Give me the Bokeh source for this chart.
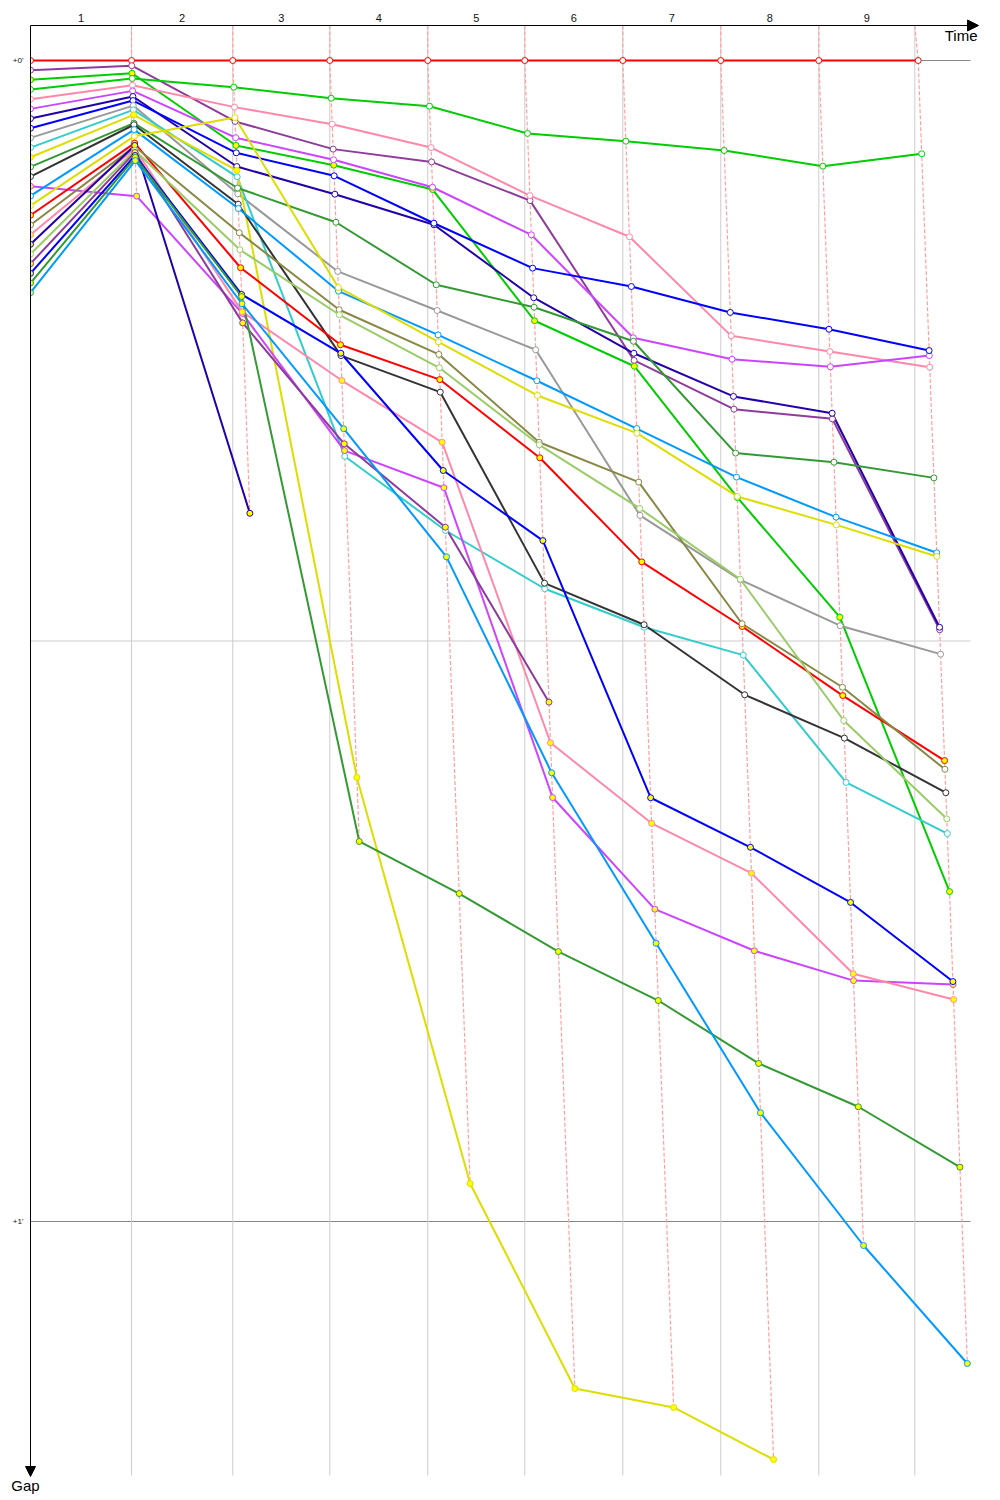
from bokeh.plotting import figure
from bokeh.models import Range1d, Arrow, NormalHead, Label
from bokeh.core.properties import value
from bokeh.embed import file_html
from bokeh.resources import INLINE

# ---------------- data ----------------
# race time (s) at which the leader completes each lap, index 0 = start
leader_times = [0.0, 138.4, 277.1, 410.0, 544.2, 677.1, 811.4, 945.6, 1079.9, 1216.0]
# time (s) of the vertical lap grid lines
lap_grid_times = [138.4, 277.1, 410.0, 544.2, 677.1, 811.4, 945.6, 1079.9, 1211.4]
lap_labels = ["1", "2", "3", "4", "5", "6", "7", "8", "9"]
gap_major = [0, 60]
gap_major_labels = ["+0'", "+1'"]
gap_minor = [30]

# gap to the leader (s): start grid, then after laps 1..9
red_a = [0.0, 0.0, 0.0, 0.0, 0.0, 0.0, 0.0, 0.0, 0.0, 0.0]
purple_a = [0.5, 0.27, 3.15, 4.58, 5.24, 7.24, 15.50, 18.02, 18.52, 29.42]
green_b = [1.0, 0.66, 4.39, 5.41, 6.67, 13.45, 15.80, 22.58, 28.77, 42.95]
green_a = [1.5, 0.93, 1.38, 1.95, 2.36, 3.77, 4.17, 4.65, 5.46, 4.82]
pink_a = [2.0, 1.28, 2.41, 3.29, 4.50, 6.98, 9.11, 14.23, 15.04, 15.85]
magenta_a = [2.5, 1.57, 3.99, 5.13, 6.55, 9.01, 14.33, 15.44, 15.83, 15.25]
navy_a = [3.0, 1.86, 5.48, 6.91, 8.49, 12.26, 15.13, 17.36, 18.23, 29.29]
blue_a = [3.5, 2.07, 4.77, 5.96, 8.41, 10.73, 11.68, 13.02, 13.89, 14.99]
grey_a = [4.0, 2.33, 6.89, 10.90, 12.92, 14.95, 23.51, 26.84, 29.21, 30.68]
cyan_a = [4.5, 2.55, 6.01, 20.45, 24.29, 27.30, 29.29, 30.73, 37.31, 39.95]
yellow_b = [5.0, 2.81, 5.68, 37.05, 58.04, 68.63, 69.61, 72.30]
forest_a = [5.5, 3.24, 6.59, 8.36, 11.59, 12.75, 14.51, 20.29, 20.76, 21.57]
black_a = [6.0, 3.32, 7.43, 15.25, 17.14, 27.01, 29.16, 32.78, 35.02, 37.84]
magenta_b = [6.5, 7.01, 13.07, 20.16, 22.08, 38.09, 43.86, 46.01, 47.55, 47.75]
lightblue_a = [7.0, 3.57, 7.65, 11.92, 14.18, 16.55, 19.02, 21.53, 23.60, 25.44]
yellow_a = [7.5, 3.91, 2.95, 11.73, 14.54, 17.31, 19.26, 22.53, 24.00, 25.63]
red_b = [8.0, 4.27, 10.71, 14.69, 16.49, 20.53, 25.91, 29.25, 32.82, 36.18]
olive_a = [8.5, 4.44, 8.90, 12.88, 15.19, 19.73, 21.79, 29.11, 32.39, 36.63]
pink_b = [9.0, 4.55, 12.99, 16.54, 19.73, 35.26, 39.42, 42.00, 47.20, 48.53]
navy_b = [9.5, 4.39, 23.40]
lightgreen_a = [10.0, 4.65, 9.78, 13.14, 15.88, 19.86, 23.15, 26.81, 34.11, 39.19]
purple_b = [10.5, 4.75, 13.56, 19.81, 24.12, 33.16]
blue_b = [11.0, 4.91, 12.09, 15.13, 21.19, 24.81, 38.10, 40.66, 43.51, 47.60]
forest_b = [11.5, 5.01, 12.20, 40.36, 43.05, 46.05, 48.58, 51.83, 54.07, 57.19]
lightblue_b = [12.0, 5.17, 12.57, 19.03, 25.65, 36.81, 45.62, 54.38, 61.24, 67.34]

series = [red_a, purple_a, green_b, green_a, pink_a, magenta_a, navy_a, blue_a,
          grey_a, cyan_a, yellow_b, forest_a, black_a, magenta_b, lightblue_a,
          yellow_a, red_b, olive_a, pink_b, navy_b, lightgreen_a, purple_b,
          blue_b, forest_b, lightblue_b]
series_colors = ["#FF0000", "#8E3B9C", "#00CC00", "#00CC00", "#FF88AA", "#CC44FF",
                 "#2200AA", "#0000FF", "#999999", "#33CCCC", "#DDDD00", "#339933",
                 "#333333", "#CC44FF", "#0099FF", "#DDDD00", "#FF0000", "#888844",
                 "#FF88AA", "#2200AA", "#99CC66", "#8E3B9C", "#0000FF", "#339933",
                 "#0099FF"]
series_fills = ["white", "white", "#FFFF00", "white", "white", "white", "white", "white",
                "white", "white", "#FFFF00", "white", "white", "#FFFF00", "white",
                "white", "#FFFF00", "white", "#FFFF00", "#FFFF00", "white", "#FFFF00",
                "#FFFF00", "#FFFF00", "#FFFF00"]

# ---------------- layout (canvas pixels) ----------------
PX_X = 0.73     # px per second along time
PX_Y = 19.35    # px per second along gap
W, H = 992, 1496
OX, OY = 30, 60          # canvas px of time 0 / gap 0


def tx(px):  # canvas x pixel -> time
    return (px - OX) / PX_X


def gy(py):  # canvas y pixel -> gap
    return (py - OY) / PX_Y


p = figure(width=W, height=H, output_backend="svg", toolbar_location=None,
           x_axis_location=None, y_axis_location=None,
           x_range=Range1d(tx(0), tx(W)), y_range=Range1d(gy(H), gy(0)),
           min_border=0, outline_line_color=None)
p.xgrid.visible = False
p.ygrid.visible = False

y_axis_line = gy(25)
x_hline_end = tx(970)

# grid lines
p.segment(x0=[0] * len(gap_minor), y0=gap_minor, x1=[x_hline_end] * len(gap_minor),
          y1=gap_minor, line_color="#CCCCCC", line_width=1)
p.segment(x0=[0] * len(gap_major), y0=gap_major, x1=[x_hline_end] * len(gap_major),
          y1=gap_major, line_color="#888888", line_width=1)
p.segment(x0=lap_grid_times, y0=[y_axis_line] * len(lap_grid_times), x1=lap_grid_times,
          y1=[gy(1475)] * len(lap_grid_times), line_color="#CCCCCC", line_width=1)

# lap crossing (dashed) lines
dash_xs, dash_ys = [], []
for i in range(1, len(leader_times)):
    pts = sorted((s[i], leader_times[i] + s[i]) for s in series if len(s) > i)
    dash_xs.append([lap_grid_times[i - 1]] + [q[1] for q in pts])
    dash_ys.append([y_axis_line] + [q[0] for q in pts])
p.multi_line(dash_xs, dash_ys, line_color="#FFA0A0", line_dash="4 2", line_width=1.2)


def xy(s):
    xs = [0.0] + [leader_times[i] + s[i] for i in range(1, len(s))]
    return xs, list(s)


for s, c in zip(series, series_colors):
    xs, ys = xy(s)
    p.line(xs, ys, line_color=c, line_width=2)
for s, c, f in zip(series, series_colors, series_fills):
    xs, ys = xy(s)
    p.scatter(xs, ys, size=6, marker="circle", fill_color=f, line_color=c, line_width=1)

# mask left of the time origin (start markers are cut by the axis)
p.quad(left=[tx(0)], right=[0], bottom=[gy(H)], top=[gy(0)],
       fill_color="white", line_color=None)

# tick labels
mids = [(a + b) / 2 for a, b in zip([0.0] + lap_grid_times[:-1], lap_grid_times)]
p.text(x=mids, y=[gy(17.5)] * len(mids), text=lap_labels,
       text_font=value("Liberation Sans"), text_font_size="11px",
       text_align="center", text_baseline="middle", text_color="#111111")
p.text(x=[tx(23)] * len(gap_major), y=gap_major, text=gap_major_labels,
       text_font=value("Liberation Sans"), text_font_size="8px",
       text_align="right", text_baseline="middle", text_color="#111111")

# axes with arrows
p.add_layout(Arrow(end=NormalHead(size=11, fill_color="black", line_color="black"),
                   x_start=0, y_start=y_axis_line, x_end=tx(978), y_end=y_axis_line,
                   line_color="black", line_width=1))
p.add_layout(Arrow(end=NormalHead(size=10, fill_color="black", line_color="black"),
                   x_start=0, y_start=y_axis_line, x_end=0, y_end=gy(1476),
                   line_color="black", line_width=1))
p.add_layout(Label(x=tx(977), y=gy(35), text="Time", text_align="right",
                   text_baseline="middle", text_font_size="15px",
                   text_font="Liberation Sans", text_color="black"))
p.add_layout(Label(x=tx(25), y=gy(1485), text="Gap", text_align="center",
                   text_baseline="middle", text_font_size="15px",
                   text_font="Liberation Sans", text_color="black"))

open("out.html", "w").write(file_html(p, INLINE))
